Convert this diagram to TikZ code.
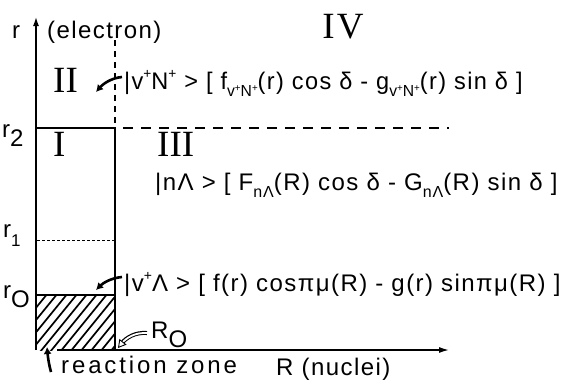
\documentclass[tikz,border=0pt]{standalone}
\usepackage{fontspec}
\setmainfont{Liberation Sans}[LetterSpace=6]
\newfontfamily\widefont{Liberation Sans}[LetterSpace=12]
\newfontfamily\romfont{Liberation Serif}
\usetikzlibrary{arrows.meta}
\newcommand\upp[1]{\raisebox{0.42em}{\fontsize{14}{14}\selectfont #1}}
\newcommand\dnn[1]{\raisebox{-0.3em}{\fontsize{16}{16}\selectfont #1}}
\newcommand\tp{\raisebox{0.3em}{\fontsize{10}{10}\selectfont +}}
\newcommand\lsub[1]{\raisebox{-9pt}{#1}}
\begin{document}
\begin{tikzpicture}[x=1pt,y=-1pt,
  lab/.style={inner sep=0pt, font=\fontsize{24}{24}\selectfont},
  rom/.style={inner sep=0pt, font=\romfont\fontsize{37}{37}\selectfont},
  axis/.style={line width=1.4pt},
  boxline/.style={line width=1.1pt},
  fatarrow/.style={line width=2.6pt, -{Latex[length=7pt,width=8pt]}},
  hatch/.style={line width=1.7pt}]
\useasboundingbox (0,0) rectangle (567,381);
% coordinates
\coordinate (O) at (36,350);
\coordinate (Ytop) at (36,17);
\coordinate (Xs) at (57,350);
\coordinate (Xe) at (449,350);
\coordinate (r2L) at (36,128);
\coordinate (r2M) at (115,128);
\coordinate (r2D) at (123,128);
\coordinate (r2R) at (449,128);
\coordinate (dTop) at (115,40);
\coordinate (bot) at (115,350);
\coordinate (r1L) at (37,240);
\coordinate (r1R) at (115,240);
\coordinate (r0L) at (36,295);
\coordinate (r0R) at (115,295);
% hatching
\begin{scope}
  \clip (36,295) rectangle (115,350);
  \foreach \x in {-60,-50,...,120} \draw[hatch] (\x,352) -- (\x+48,293);
\end{scope}
% axes and box
\draw[axis, -{Latex[length=9pt,width=6pt]}] (O) -- (Ytop);
\draw[axis, -{Latex[length=10pt,width=6pt]}] (Xs) -- (Xe);
\draw[boxline] (r2L) -- (r2M) -- (bot);
\draw[boxline, dash pattern=on 6pt off 5pt] (dTop) -- (r2M);
\draw[boxline, dash pattern=on 10pt off 8pt] (r2D) -- (r2R);
\draw[line width=0.7pt, dash pattern=on 3pt off 2pt] (r1L) -- (r1R);
\draw[boxline] (r0L) -- (r0R);
% labels
\node[lab, anchor=base west] (rlab) at (12,38) {r};
\node[lab, anchor=base west] (elec) at (47,38) {(electron)};
\node[rom, anchor=base] (IV) at (343,38) {I\hspace{2pt}V};
\node[rom, anchor=base west] (II) at (53,92) {II};
\node[rom, anchor=base west] (I) at (53,156) {I};
\node[rom, anchor=base west] (III) at (157,156) {III};
\node[lab, anchor=base west] (r2) at (2,137) {r\lsub{2}};
\node[lab, anchor=base west] (r1) at (3,237) {r\lsub{\fontsize{17}{17}\selectfont 1}};
\node[lab, anchor=base west] (r0) at (3,298) {r\lsub{O}};
% formulas
\node[lab, anchor=base west] (f1) at (124,89)
  {\scalebox{0.98}[1]{|v\upp{+}N\upp{+} > [ f\dnn{v\tp N\tp}(r) cos δ - g\dnn{v\tp N\tp}(r) sin δ ]}};
\node[lab, anchor=base west] (f2) at (155,190)
  {|nΛ > [ F\dnn{nΛ}(R) cos δ - G\dnn{nΛ}(R) sin δ ]};
\node[lab, anchor=base west] (f3) at (124,291)
  {|v\upp{+}Λ > [ f(r) cosπμ(R) - g(r) sinπμ(R) ]};
\node[lab, anchor=base west] (R0) at (151,338) {R\lsub{O}};
\node[lab, anchor=base west, font=\widefont\fontsize{24}{24}\selectfont] (rz) at (61,373) {reaction zone};
\node[lab, anchor=base west] (Rn) at (276,375) {R (nuclei)};
% arrows
\coordinate (a1s) at (122,77);
\coordinate (a1e) at (96,92);
\draw[fatarrow] (a1s) .. controls (111,78) and (103,84) .. (a1e);
\coordinate (a3s) at (122,277);
\coordinate (a3e) at (96,290);
\draw[fatarrow] (a3s) .. controls (111,278) and (103,283) .. (a3e);
\coordinate (rzs) at (51,372);
\coordinate (rze) at (47,347);
\draw[fatarrow] (rzs) .. controls (49,365) and (48,358) .. (rze);
\coordinate (hs) at (147,333);
\coordinate (he) at (118,348);
\draw[line width=4pt, shorten >=7pt] (hs) .. controls (135,332) and (126,338) .. (he);
\draw[white, line width=1.8pt, shorten >=6pt, shorten <=-1pt] (hs) .. controls (135,332) and (126,338) .. (he);
\draw[white, line width=0.1pt, -{Triangle[open, fill=white, color=black, line width=0.9pt, length=8pt, width=9pt]}] (hs) .. controls (135,332) and (126,338) .. (he);
\end{tikzpicture}
\end{document}
